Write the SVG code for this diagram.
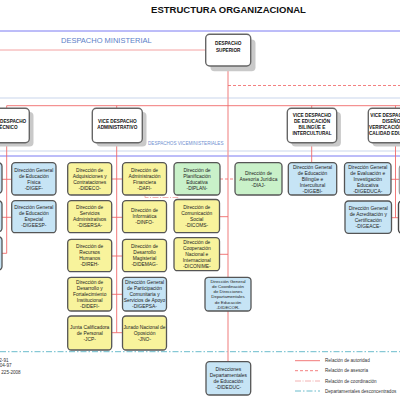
<svg xmlns="http://www.w3.org/2000/svg" width="400" height="400" viewBox="0 0 400 400">
<style>
text{font-family:"Liberation Sans",Arial,sans-serif}
.t{font-size:4.9px;fill:#222;text-anchor:middle}
.ts{font-size:4.4px;fill:#222;text-anchor:middle}
.vb{font-size:4.7px;font-weight:bold;fill:#111;text-anchor:middle}
.lg{font-size:4.6px;fill:#333}
.bx{stroke:#555;stroke-width:1.3}
.y{fill:#f8f39c}
.b{fill:#c6e4f5}
.g{fill:#c9f1c9}
.w{fill:#fff;stroke:#666;stroke-width:1.4}
.sh{fill:#c9c9c9}
.shs{fill:#d6d6d6}
.auth{stroke:#f06a6a;stroke-width:0.9;fill:none}
.trunk{stroke:#f39a9a;stroke-width:1.3;fill:none}
.ases{stroke:#f06060;stroke-width:0.8;stroke-dasharray:3 2;fill:none}
.coord{stroke:#f0a0a0;stroke-width:0.8;stroke-dasharray:6 1.5 1 1.5;fill:none}
.dep{stroke:#5ab4c6;stroke-width:0.9;stroke-dasharray:6 2 1.5 2;fill:none}
</style>

<text x="228.5" y="13" font-size="9.5" font-weight="bold" text-anchor="middle" fill="#111">ESTRUCTURA ORGANIZACIONAL</text>

<g id="bands">
<line x1="0" y1="31" x2="400" y2="31" stroke="#7a7af2" stroke-width="1"/>
<text x="61" y="42.7" font-size="7.5" fill="#5b7fc8">DESPACHO MINISTERIAL</text>
<line x1="0" y1="98" x2="400" y2="98" stroke="#c9d5ec" stroke-width="1.2"/>
<line x1="0" y1="151" x2="400" y2="151" stroke="#c9d5ec" stroke-width="1.2"/>
<line x1="0" y1="156" x2="400" y2="156" stroke="#7a7af2" stroke-width="1"/>
<text x="148" y="144.7" font-size="4.6" fill="#6f8fd0">DESPACHOS VICEMINISTERIALES</text>
<line x1="0" y1="351.7" x2="400" y2="351.7" class="dep"/>
</g>

<g id="connectors">
<line x1="0" y1="50" x2="205.7" y2="50" stroke="#f4a2a2" stroke-width="1"/>
<line x1="228" y1="66" x2="228" y2="361.7" class="trunk"/>
<line x1="228" y1="85.5" x2="400" y2="85.5" class="ases"/>
<polyline points="6.7,108.3 6.7,105.7 400,105.7" class="auth"/>
<line x1="116.7" y1="105.7" x2="116.7" y2="108.3" class="auth"/>
<line x1="311.7" y1="105.7" x2="311.7" y2="108.3" class="auth"/>
<line x1="395.5" y1="105.7" x2="395.5" y2="108.3" class="auth"/>
<!-- left vice -->
<line x1="6.7" y1="142.7" x2="6.7" y2="253.3" class="auth"/>
<line x1="2" y1="179.3" x2="11.7" y2="179.3" class="auth"/>
<line x1="2" y1="217.3" x2="11.7" y2="217.3" class="auth"/>
<line x1="2" y1="253.3" x2="6.7" y2="253.3" class="auth"/>
<!-- admin vice -->
<line x1="116.7" y1="142.7" x2="116.7" y2="332.7" class="auth"/>
<line x1="111.7" y1="179" x2="122.5" y2="179" class="auth"/>
<line x1="111.7" y1="217.3" x2="122.5" y2="217.3" class="auth"/>
<line x1="111.7" y1="256" x2="122.5" y2="256" class="auth"/>
<line x1="111.7" y1="294.3" x2="122.5" y2="294.3" class="auth"/>
<line x1="111.7" y1="332.7" x2="122.5" y2="332.7" class="auth"/>
<!-- superior branches -->
<line x1="219.5" y1="216.7" x2="228" y2="216.7" class="auth"/>
<line x1="219.5" y1="254.3" x2="228" y2="254.3" class="auth"/>
<line x1="220" y1="179" x2="235" y2="179" class="ases"/>
<polyline points="145,195 145,197.5 178,197.5 178,195" class="coord"/>
<!-- bilingual -->
<line x1="311.7" y1="142.7" x2="311.7" y2="162.7" class="auth"/>
<!-- diseño -->
<line x1="395.5" y1="142.7" x2="395.5" y2="217.7" class="auth"/>
<line x1="391" y1="179.3" x2="400" y2="179.3" class="auth"/>
<line x1="391" y1="217.7" x2="400" y2="217.7" class="auth"/>
</g>

<g id="despacho-superior">
<rect x="210.5" y="39.5" width="45" height="31.7" rx="4" class="sh"/>
<rect x="205.7" y="34.3" width="45" height="31.7" rx="4" class="w"/>
<text class="vb" x="228.2" y="45.2">DESPACHO<tspan x="228.2" dy="6.5">SUPERIOR</tspan></text>
</g>

<g id="vice-tecnico">
<rect x="-15" y="112" width="48.5" height="34.4" rx="4" class="sh"/>
<rect x="-19" y="108.3" width="48.3" height="34.4" rx="4" class="w"/>
<text class="vb" x="7" y="123.4">VICE DESPACHO<tspan x="7" dy="6">TÉCNICO</tspan></text>
</g>

<g id="vice-administrativo">
<rect x="96.5" y="112" width="50" height="34.4" rx="4" class="sh"/>
<rect x="92.3" y="108.3" width="50" height="34.4" rx="4" class="w"/>
<text class="vb" x="117.3" y="123.4">VICE DESPACHO<tspan x="117.3" dy="6">ADMINISTRATIVO</tspan></text>
</g>

<g id="vice-bilingue">
<rect x="291.5" y="112" width="49.4" height="34.4" rx="4" class="sh"/>
<rect x="287.3" y="108.3" width="49.4" height="34.4" rx="4" class="w"/>
<text class="vb" x="312" y="117.4">VICE DESPACHO<tspan x="312" dy="6">DE EDUCACIÓN</tspan><tspan x="312" dy="6">BILINGÜE E</tspan><tspan x="312" dy="6">INTERCULTURAL</tspan></text>
</g>

<g id="vice-diseno">
<rect x="372.5" y="112" width="50.4" height="34.4" rx="4" class="sh"/>
<rect x="368.3" y="108.3" width="50.4" height="34.4" rx="4" class="w"/>
<text class="vb" x="393.5" y="117.4">VICE DESPACHO DE<tspan x="393.5" dy="6">DISEÑO Y</tspan><tspan x="393.5" dy="6">VERIFICACIÓN DE LA</tspan><tspan x="393.5" dy="6">CALIDAD EDUCATIVA</tspan></text>
</g>

<g id="partial-left">
<rect x="-40" y="162.7" width="42" height="30.6" rx="3.5" class="bx b"/>
<rect x="-40" y="200.7" width="42" height="31" rx="3.5" class="bx b"/>
<rect x="-40" y="236.7" width="42" height="33.3" rx="3.5" class="bx b"/>
</g>

<g id="partial-right">
<rect x="399.3" y="165" width="40" height="30" rx="3.5" fill="#eee" stroke="#999" stroke-width="1.2"/>
<rect x="398.5" y="201" width="40" height="32.3" rx="3.5" fill="#fff" stroke="#444" stroke-width="1.4"/>
</g>

<g id="DIGEF">
<rect x="11.7" y="162.7" width="44.3" height="32.3" rx="3.5" class="bx b"/>
<text class="t" x="33.85" y="171.6">Dirección General<tspan x="33.85" dy="6">de Educación</tspan><tspan x="33.85" dy="6">Física</tspan><tspan x="33.85" dy="6">-DIGEF-</tspan></text>
</g>
<g id="DIGEESP">
<rect x="11.7" y="200.7" width="44.3" height="32" rx="3.5" class="bx b"/>
<text class="t" x="33.85" y="209.45">Dirección General<tspan x="33.85" dy="6">de Educación</tspan><tspan x="33.85" dy="6">Especial</tspan><tspan x="33.85" dy="6">-DIGEESP-</tspan></text>
</g>

<g id="DIDECO">
<rect x="67.7" y="162.7" width="44" height="32.3" rx="3.5" class="bx y"/>
<text class="t" x="89.7" y="171.6">Dirección de<tspan x="89.7" dy="6">Adquisiciones y</tspan><tspan x="89.7" dy="6">Contrataciones</tspan><tspan x="89.7" dy="6">-DIDECO-</tspan></text>
</g>
<g id="DISERSA">
<rect x="67.7" y="200.7" width="44" height="32" rx="3.5" class="bx y"/>
<text class="t" x="89.7" y="209.45">Dirección de<tspan x="89.7" dy="6">Servicios</tspan><tspan x="89.7" dy="6">Administrativos</tspan><tspan x="89.7" dy="6">-DISERSA-</tspan></text>
</g>
<g id="DIREH">
<rect x="67.7" y="239.3" width="44" height="32.4" rx="3.5" class="bx y"/>
<text class="t" x="89.7" y="248.25">Dirección de<tspan x="89.7" dy="6">Recursos</tspan><tspan x="89.7" dy="6">Humanos</tspan><tspan x="89.7" dy="6">-DIREH-</tspan></text>
</g>
<g id="DIDEFI">
<rect x="67.7" y="277.3" width="44" height="33.7" rx="3.5" class="bx y"/>
<text class="t" x="89.7" y="283.9">Dirección de<tspan x="89.7" dy="6">Desarrollo y</tspan><tspan x="89.7" dy="6">Fortalecimiento</tspan><tspan x="89.7" dy="6">Institucional</tspan><tspan x="89.7" dy="6">-DIDEFI-</tspan></text>
</g>
<g id="JCP">
<rect x="67.7" y="316" width="44" height="34" rx="3.5" class="bx y"/>
<text class="t" x="89.7" y="328.75">Junta Calificadora<tspan x="89.7" dy="6">de Personal</tspan><tspan x="89.7" dy="6">-JCP-</tspan></text>
</g>

<g id="DAFI">
<rect x="122.5" y="162.7" width="44" height="32.3" rx="3.5" class="bx y"/>
<text class="t" x="144.5" y="171.6">Dirección de<tspan x="144.5" dy="6">Administración</tspan><tspan x="144.5" dy="6">Financiera</tspan><tspan x="144.5" dy="6">-DAFI-</tspan></text>
</g>
<g id="DINFO">
<rect x="122.5" y="200.7" width="44" height="32" rx="3.5" class="bx y"/>
<text class="t" x="144.5" y="212.45">Dirección de<tspan x="144.5" dy="6">Informática</tspan><tspan x="144.5" dy="6">-DINFO-</tspan></text>
</g>
<g id="DIDEMAG">
<rect x="122.5" y="239.3" width="44" height="32.4" rx="3.5" class="bx y"/>
<text class="t" x="144.5" y="248.25">Dirección de<tspan x="144.5" dy="6">Desarrollo</tspan><tspan x="144.5" dy="6">Magisterial</tspan><tspan x="144.5" dy="6">-DIDEMAG-</tspan></text>
</g>
<g id="DIGEPSA">
<rect x="122.5" y="277.3" width="44" height="33.7" rx="3.5" class="bx b"/>
<text class="t" x="144.5" y="283.9">Dirección General<tspan x="144.5" dy="6">de Participación</tspan><tspan x="144.5" dy="6">Comunitaria y</tspan><tspan x="144.5" dy="6">Servicios de Apoyo</tspan><tspan x="144.5" dy="6">-DIGEPSA-</tspan></text>
</g>
<g id="JNO">
<rect x="122.5" y="316" width="44" height="34" rx="3.5" class="bx y"/>
<text class="t" x="144.5" y="328.75">Jurado Nacional de<tspan x="144.5" dy="6">Oposición</tspan><tspan x="144.5" dy="6">-JNO-</tspan></text>
</g>

<g id="DIPLAN">
<rect x="174" y="162.7" width="46" height="32.3" rx="3.5" class="bx g"/>
<text class="t" x="197" y="171.6">Dirección de<tspan x="197" dy="6">Planificación</tspan><tspan x="197" dy="6">Educativa</tspan><tspan x="197" dy="6">-DIPLAN-</tspan></text>
</g>
<g id="DICOMS">
<rect x="174" y="199.5" width="45.5" height="33.2" rx="3.5" class="bx y"/>
<text class="t" x="196.75" y="208.85">Dirección de<tspan x="196.75" dy="6">Comunicación</tspan><tspan x="196.75" dy="6">Social</tspan><tspan x="196.75" dy="6">-DICOMS-</tspan></text>
</g>
<g id="DICONIME">
<rect x="174" y="237.7" width="45.5" height="33" rx="3.5" class="bx y"/>
<text class="t" x="196.75" y="243.95">Dirección de<tspan x="196.75" dy="6">Cooperación</tspan><tspan x="196.75" dy="6">Nacional e</tspan><tspan x="196.75" dy="6">Internacional</tspan><tspan x="196.75" dy="6">-DICONIME-</tspan></text>
</g>

<g id="DIAJ">
<rect x="235" y="162.7" width="47" height="32.3" rx="3.5" class="bx g"/>
<text class="t" x="258.5" y="174.6">Dirección de<tspan x="258.5" dy="6">Asesoría Jurídica</tspan><tspan x="258.5" dy="6">-DIAJ-</tspan></text>
</g>

<g id="DIGEBI">
<rect x="288.3" y="162.7" width="48.4" height="32.3" rx="3.5" class="bx b"/>
<text class="t" x="312.5" y="168.6">Dirección General<tspan x="312.5" dy="6">de Educación</tspan><tspan x="312.5" dy="6">Bilingüe e</tspan><tspan x="312.5" dy="6">Intercultural</tspan><tspan x="312.5" dy="6">-DIGEBI-</tspan></text>
</g>

<g id="DIGEDUCA">
<rect x="344.5" y="162.7" width="46.5" height="32.3" rx="3.5" class="bx b"/>
<text class="t" x="367.75" y="168.6">Dirección General<tspan x="367.75" dy="6">de Evaluación e</tspan><tspan x="367.75" dy="6">Investigación</tspan><tspan x="367.75" dy="6">Educativa</tspan><tspan x="367.75" dy="6">-DIGEDUCA-</tspan></text>
</g>
<g id="DIGEACE">
<rect x="345" y="201" width="46.5" height="32.3" rx="3.5" class="bx b"/>
<text class="t" x="368.25" y="209.9">Dirección General<tspan x="368.25" dy="6">de Acreditación y</tspan><tspan x="368.25" dy="6">Certificación</tspan><tspan x="368.25" dy="6">-DIGEACE-</tspan></text>
</g>

<g id="DIDECOR">
<rect x="205" y="277.3" width="46" height="33.7" rx="3.5" class="bx b"/>
<text class="ts" x="228" y="282.5">Dirección General<tspan x="228" dy="5.3">de Coordinación</tspan><tspan x="228" dy="5.3">de Direcciones</tspan><tspan x="228" dy="5.3">Departamentales</tspan><tspan x="228" dy="5.3">de Educación</tspan><tspan x="228" dy="5.3">-DIDECOR-</tspan></text>
</g>

<g id="DIDEDUC">
<rect x="206" y="361.7" width="44.7" height="33.3" rx="3.5" class="bx b"/>
<text class="t" x="228.35" y="370.8">Direcciones<tspan x="228.35" dy="6">Departamentales</tspan><tspan x="228.35" dy="6">de Educación</tspan><tspan x="228.35" dy="6">-DIDEDUC-</tspan></text>
</g>

<g id="legend">
<line x1="295" y1="360.7" x2="320" y2="360.7" stroke="#f06a6a" stroke-width="0.9"/>
<text class="lg" x="325" y="362.3">Relación de autoridad</text>
<line x1="295" y1="370.7" x2="320" y2="370.7" class="ases"/>
<text class="lg" x="325" y="372.3">Relación de asesoría</text>
<line x1="295" y1="381" x2="320" y2="381" class="coord"/>
<text class="lg" x="325" y="382.6">Relación de coordinación</text>
<line x1="295" y1="391" x2="320" y2="391" class="dep"/>
<text class="lg" x="325" y="392.6">Departamentales desconcentrados</text>
</g>

<g id="notes">
<text class="lg" x="8.5" y="361.7" text-anchor="end">2-91</text>
<text class="lg" x="11.5" y="367.4" text-anchor="end">04-97</text>
<text class="lg" x="20.7" y="374.4" text-anchor="end">225-2008</text>
</g>
</svg>
